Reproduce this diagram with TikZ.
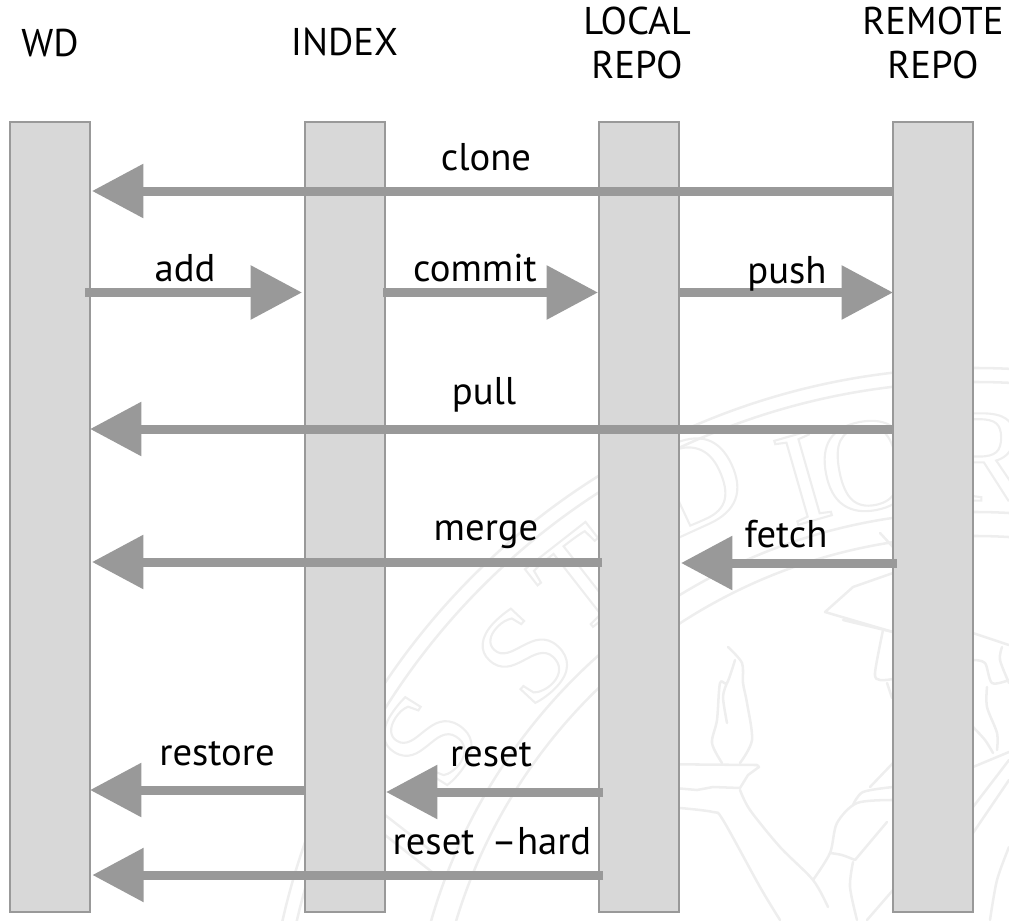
\documentclass[tikz,border=0pt]{standalone}
\usepackage{fontspec}
\setmainfont{PT Sans}
\usetikzlibrary{arrows.meta,positioning}
\newfontfamily\sealfont{Liberation Serif}
\definecolor{barfill}{HTML}{D8D8D8}
\definecolor{linegray}{HTML}{999999}
\definecolor{sealgray}{HTML}{EEEEEE}
\tikzset{
  bar/.style={draw=linegray,fill=barfill,line width=1.5pt,minimum width=60pt,
              minimum height=592.5pt,inner sep=0pt},
  hd/.style={font=\fontsize{29}{33}\selectfont,align=center,inner sep=0pt},
  lbl/.style={font=\fontsize{29}{33}\selectfont,anchor=base,inner sep=0pt},
  fl/.style={draw=linegray,line width=6.75pt,-{Triangle[length=38.5pt,width=39pt]}},
  seal/.style={draw=sealgray,line width=1.9pt,line cap=round,line join=round},
  sealltr/.style={text=sealgray,font=\sealfont\fontsize{100}{100}\selectfont,inner sep=0pt},
}

\begin{document}
\begin{tikzpicture}[x=0.75pt,y=-0.75pt]
\useasboundingbox (0,0) rectangle (1009,920);
% watermark
\draw[seal] (975,1078) circle (710);
\draw[seal] (975,1078) circle (696);
\draw[seal] (975,1078) circle (566);
\draw[seal] (975,1078) circle (542);
\foreach \ltr/\px/\py/\rot in {S/428/740/58,S/525/655/47,T/582/580/38,D/693/483/25,I/803/478/16,O/868/466/11,R/985/457/0}
  \node[sealltr,rotate=\rot] at (\px,\py) {\special{pdf:code 1 Tr 1.6 w 0.933 G}\ltr\special{pdf:code 0 Tr}};
\draw[seal] (385,815) -- (430,850);
\draw[seal] (385,835) -- (432,872);
% torch
\draw[seal] plot[smooth] coordinates {(728,647) (742,663) (743,683) (747,703) (752,740) (740,763)};
\draw[seal] plot[smooth] coordinates {(735,660) (727,683) (720,683) (717,720) (712,743) (722,763)};
\draw[seal] plot[smooth] coordinates {(727,683) (723,697) (727,723)};
\draw[seal] (640,764) -- (757,765) -- (759,767) -- (748,775) -- (740,788) -- (713,787) -- (697,790) -- (640,785);
\draw[seal] plot[smooth] coordinates {(680,808) (713,812) (723,820) (760,887) (780,920)};
\draw[seal] plot[smooth] coordinates {(740,790) (750,810) (780,847) (813,880) (828,907)};
% figure
\draw[seal] plot[smooth] coordinates {(813,880) (830,853) (837,823) (857,803) (893,800)};
\draw[seal] plot[smooth] coordinates {(853,805) (863,792) (893,787)};
\draw[seal] (870,787) -- (893,763);
\draw[seal] plot[smooth] coordinates {(830,853) (842,855) (855,860)};
\draw[seal] (855,860) -- (887,822);
\draw[seal] plot[smooth] coordinates {(853,862) (850,887) (857,920)};
\draw[seal] (867,920) -- (893,890);
\draw[seal] (843,620) -- (893,632);
\draw[seal] plot[smooth] coordinates {(883,630) (875,673) (880,680) (893,679)};
\draw[seal] (887,683) -- (892,698);
\draw[seal] (893,573) -- (853,587) -- (825,612) -- (893,632);
\draw[seal] (880,533) -- (893,547);
\draw[seal] (973,633) -- (1009,645);
\draw[seal] plot[smooth] coordinates {(973,660) (985,663) (992,683) (1009,680)};
\draw[seal] plot[smooth] coordinates {(1002,647) (1000,660) (1009,683)};
\draw[seal] plot[smooth] coordinates {(987,687) (987,707) (997,733) (997,750)};
\draw[seal] plot[smooth] coordinates {(973,727) (985,740) (993,753)};
\draw[seal] (973,767) -- (1009,752);
\draw[seal] (973,807) -- (1009,760);
\draw[seal] (973,833) -- (1009,780);
\draw[seal] plot[smooth] coordinates {(990,920) (997,880) (1009,847)};
% columns
\node[bar] (wd) at (50,517) {};
\node[bar] (index) at (344.5,517) {};
\node[bar] (local) at (639,517) {};
\node[bar] (remote) at (933,517) {};
\node[hd, above=47.75pt of wd] (wdname) {WD};
\node[hd, above=48.25pt of index] (indexname) {INDEX};
\node[hd, above=31.5pt of local, xshift=-1.5pt] (localname) {LOCAL\\REPO};
\node[hd, above=31.5pt of remote] (remotename) {REMOTE\\REPO};
% commands
\draw[fl] ([xshift=0.75pt]remote.west |- 0,191) -- ([xshift=0.75pt]wd.east |- 0,191);
\draw[fl] ([xshift=-4.5pt]wd.east |- 0,292.5) -- ([xshift=-1.1pt]index.west |- 0,292.5);
\draw[fl] ([xshift=-1.9pt]index.east |- 0,292.5) -- (local.west |- 0,292.5);
\draw[fl] ([xshift=-0.75pt]local.east |- 0,292.5) -- ([xshift=0.75pt]remote.west |- 0,292.5);
\draw[fl] ([xshift=0.75pt]remote.west |- 0,429) -- ([xshift=-0.75pt]wd.east |- 0,429);
\draw[fl] ([xshift=3pt]local.west |- 0,562) -- ([xshift=0.75pt]wd.east |- 0,562);
\draw[fl] ([xshift=3.75pt]remote.west |- 0,563) -- ([xshift=0.75pt]local.east |- 0,563);
\draw[fl] ([xshift=1.9pt]index.west |- 0,790) -- ([xshift=-0.75pt]wd.east |- 0,790);
\draw[fl] ([xshift=3.75pt]local.west |- 0,792) -- ([xshift=0.4pt]index.east |- 0,792);
\draw[fl] ([xshift=3.75pt]local.west |- 0,875) -- ([xshift=1pt]wd.east |- 0,875);
\node[lbl] (clonelbl) at (486,171) {clone};
\node[lbl] (addlbl) at (185,281) {add};
\node[lbl] (commitlbl) at (475,281) {commit};
\node[lbl] (pushlbl) at (787,283) {push};
\node[lbl] (pulllbl) at (484,404) {pull};
\node[lbl] (mergelbl) at (486,540) {merge};
\node[lbl] (fetchlbl) at (786,547) {fetch};
\node[lbl] (restorelbl) at (217,765) {restore};
\node[lbl] (resetlbl) at (491,766) {reset};
\node[lbl] (hardlbl) at (492,854) {reset\kern5pt\ –hard};
\end{tikzpicture}
\end{document}
